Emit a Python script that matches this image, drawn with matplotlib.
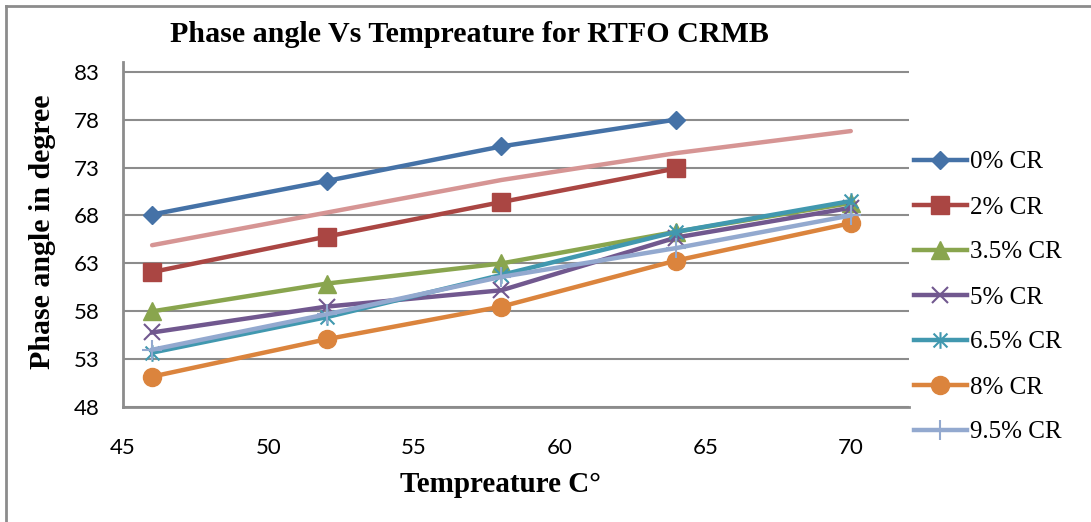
import numpy as np
import matplotlib
matplotlib.use("Agg")
import matplotlib.pyplot as plt
from matplotlib.path import Path
from matplotlib.lines import Line2D

# phase angle (deg) vs test temperature for RTFO aged CRMB
temps = [46, 52, 58, 64, 70]
cr_0 = [68.1, 71.6, 75.2, 78.0]
cr_2 = [62.1, 65.8, 69.4, 72.9]
cr_35 = [58.0, 60.9, 63.0, 66.3, 69.3]
cr_5 = [55.8, 58.5, 60.2, 65.7, 68.8]
cr_65 = [53.7, 57.4, 61.8, 66.3, 69.5]
cr_8 = [51.2, 55.1, 58.5, 63.3, 67.2]
cr_95 = [54.0, 57.7, 61.6, 64.6, 68.0]
trend = [64.9, 68.3, 71.7, 74.5, 76.8]

labels = ['0% CR', '2% CR', '3.5% CR', '5% CR', '6.5% CR', '8% CR', '9.5% CR']
xticks = [45, 50, 55, 60, 65, 70]
yticks = [48, 53, 58, 63, 68, 73, 78, 83]

# x plus vertical bar, like the spreadsheet "star" marker
star = Path([(-1, -1), (1, 1), (-1, 1), (1, -1), (0, -1.2), (0, 1.2)],
            [Path.MOVETO, Path.LINETO, Path.MOVETO, Path.LINETO, Path.MOVETO, Path.LINETO])

series = [
    (cr_0, '#4572A7', 'D', 9.5),
    (cr_2, '#AA4643', 's', 13),
    (cr_35, '#89A54E', '^', 13),
    (cr_5, '#71588F', 'x', 12),
    (cr_65, '#4198AF', star, 12),
    (cr_8, '#DB843D', 'o', 13),
    (cr_95, '#93A9CF', '+', 14),
]

fig = plt.figure(figsize=(10.91, 5.22), dpi=100)
ax = fig.add_axes([123 / 1091, 1 - 407.3 / 522, (909 - 123) / 1091, (407.3 - 62) / 522])

ax.plot(temps, trend, color='#D69594', lw=3.2, solid_capstyle='round', zorder=2)

handles = []
for (vals, col, mk, ms), lab in zip(series, labels):
    mew = 1.5 if mk in ('x', '+') or mk is star else 1
    ln, = ax.plot(temps[:len(vals)], vals, color=col, lw=3.2, marker=mk, ms=ms,
                  mec=col, mfc=col, mew=mew, label=lab, zorder=3,
                  solid_joinstyle='round')
    handles.append(ln)

ax.set_xlim(45, 72)
ax.set_ylim(48, 84)
ax.set_xticks(xticks)
ax.set_yticks(yticks)
ax.grid(axis='y', color='#8c8c8c', lw=1.5)
ax.set_axisbelow(True)
for s in ['top', 'right']:
    ax.spines[s].set_visible(False)
for s in ['left', 'bottom']:
    ax.spines[s].set_color('#8c8c8c')
    ax.spines[s].set_linewidth(2)
ax.tick_params(axis='x', length=0, pad=22, labelsize=16)
ax.tick_params(axis='y', length=0, pad=17, labelsize=16)
for t in ax.get_xticklabels() + ax.get_yticklabels():
    t.set_fontfamily('Lato')

ax.set_xlabel('Tempreature C°', fontsize=21, fontweight='bold', family='Liberation Serif')
ax.xaxis.set_label_coords((500 - 123) / 786, -(471 - 407.3) / 345.3)
ax.set_ylabel('Phase angle in degree', fontsize=21.5, fontweight='bold', family='Liberation Serif')
ax.yaxis.set_label_coords(-(123 - 56) / 786, (407.3 - 232) / 345.3)

fig.text(469 / 1091, 1 - 35 / 522, 'Phase angle Vs Tempreature for RTFO CRMB',
         ha='center', va='center', fontsize=21.6, fontweight='bold', family='Liberation Serif')

fig.legend(handles=handles, loc='upper left', bbox_to_anchor=(914 / 1091, 1 - 151 / 522),
           frameon=False, borderpad=0, borderaxespad=0, handlelength=2.1,
           handletextpad=0.12, labelspacing=0.9,
           prop={'family': 'Liberation Serif', 'size': 18})

# outer chart border (top and left edges)
fig.add_artist(Line2D([6 / 1091, 1], [1 - 6 / 522, 1 - 6 / 522], color='#8c8c8c', lw=2,
                      transform=fig.transFigure))
fig.add_artist(Line2D([6 / 1091, 6 / 1091], [0, 1 - 6 / 522], color='#8c8c8c', lw=2,
                      transform=fig.transFigure))

fig.savefig('out.png', dpi=100)
